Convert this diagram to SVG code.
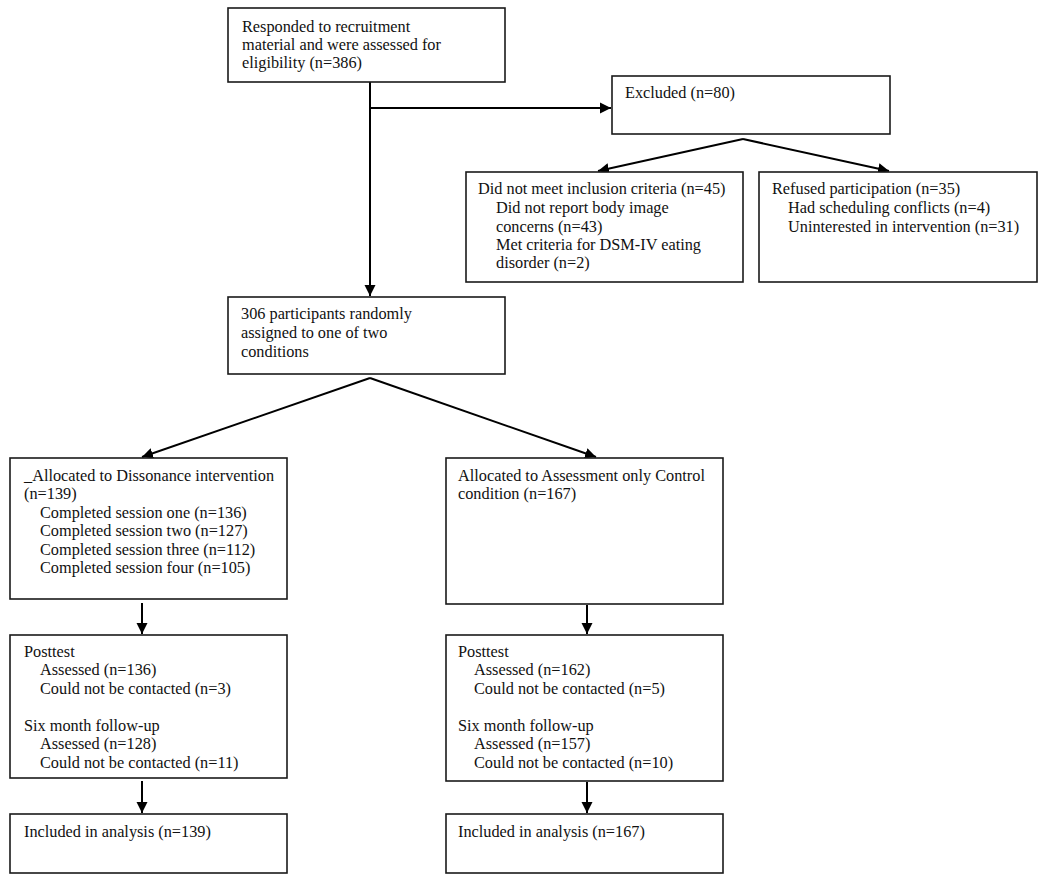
<svg xmlns="http://www.w3.org/2000/svg" width="1050" height="881" viewBox="0 0 1050 881">
<style>
.box{fill:#fff;stroke:#1a1a1a;stroke-width:1.6}
.t{font-family:"Liberation Serif","Times New Roman",serif;font-size:16.3px;fill:#111}
.c{fill:none;stroke:#000;stroke-width:2}
</style>
<defs>
<marker id="ah" markerUnits="userSpaceOnUse" markerWidth="12" markerHeight="12" refX="11" refY="6" orient="auto">
<path d="M0,0.5 L11,6 L0,11.5 z" fill="#000"/>
</marker>
</defs>
<rect width="1050" height="881" fill="#fff"/>
<g id="connectors">
<line class="c" x1="370" y1="82" x2="370" y2="296" marker-end="url(#ah)"/>
<line class="c" x1="370" y1="108" x2="611" y2="108" marker-end="url(#ah)"/>
<polyline class="c" points="743,139 598,171" marker-end="url(#ah)"/>
<polyline class="c" points="743,139 889,171" marker-end="url(#ah)"/>
<line class="c" x1="370" y1="378" x2="142" y2="457" marker-end="url(#ah)"/>
<line class="c" x1="370" y1="378" x2="596" y2="457" marker-end="url(#ah)"/>
<line class="c" x1="142" y1="603" x2="142" y2="634" marker-end="url(#ah)"/>
<line class="c" x1="587" y1="605" x2="587" y2="634" marker-end="url(#ah)"/>
<line class="c" x1="142" y1="781" x2="142" y2="813" marker-end="url(#ah)"/>
<line class="c" x1="587" y1="782" x2="587" y2="813" marker-end="url(#ah)"/>
</g>
<g id="n_responded">
<rect class="box" x="228" y="8" width="277" height="74"/>
<text class="t" x="242" y="32">Responded to recruitment</text>
<text class="t" x="242" y="50">material and were assessed for</text>
<text class="t" x="242" y="68">eligibility (n=386)</text>
</g>
<g id="n_excluded">
<rect class="box" x="612" y="76" width="278" height="58"/>
<text class="t" x="625" y="98">Excluded (n=80)</text>
</g>
<g id="n_notmeet">
<rect class="box" x="466" y="172" width="277" height="110"/>
<text class="t" x="478" y="194">Did not meet inclusion criteria (n=45)</text>
<text class="t" x="496" y="213">Did not report body image</text>
<text class="t" x="496" y="232">concerns (n=43)</text>
<text class="t" x="496" y="250">Met criteria for DSM-IV eating</text>
<text class="t" x="496" y="268">disorder (n=2)</text>
</g>
<g id="n_refused">
<rect class="box" x="759" y="172" width="278" height="110"/>
<text class="t" x="772" y="194">Refused participation (n=35)</text>
<text class="t" x="788" y="213">Had scheduling conflicts (n=4)</text>
<text class="t" x="788" y="232">Uninterested in intervention (n=31)</text>
</g>
<g id="n_random">
<rect class="box" x="228" y="297" width="277" height="77"/>
<text class="t" x="241" y="319">306 participants randomly</text>
<text class="t" x="241" y="338">assigned to one of two</text>
<text class="t" x="241" y="357">conditions</text>
</g>
<g id="n_dissonance">
<rect class="box" x="10" y="458" width="277" height="141"/>
<text class="t" x="24" y="481">_Allocated to Dissonance intervention</text>
<text class="t" x="24" y="499">(n=139)</text>
<text class="t" x="40" y="518">Completed session one (n=136)</text>
<text class="t" x="40" y="536">Completed session two (n=127)</text>
<text class="t" x="40" y="555">Completed session three (n=112)</text>
<text class="t" x="40" y="573">Completed session four (n=105)</text>
</g>
<g id="n_control">
<rect class="box" x="446" y="458" width="277" height="146"/>
<text class="t" x="458" y="481">Allocated to Assessment only Control</text>
<text class="t" x="458" y="499">condition (n=167)</text>
</g>
<g id="n_post_left">
<rect class="box" x="10" y="635" width="277" height="143"/>
<text class="t" x="24" y="657">Posttest</text>
<text class="t" x="40" y="675">Assessed (n=136)</text>
<text class="t" x="40" y="694">Could not be contacted (n=3)</text>
<text class="t" x="24" y="731">Six month follow-up</text>
<text class="t" x="40" y="749">Assessed (n=128)</text>
<text class="t" x="40" y="768">Could not be contacted (n=11)</text>
</g>
<g id="n_post_right">
<rect class="box" x="446" y="635" width="277" height="146"/>
<text class="t" x="458" y="657">Posttest</text>
<text class="t" x="474" y="675">Assessed (n=162)</text>
<text class="t" x="474" y="694">Could not be contacted (n=5)</text>
<text class="t" x="458" y="731">Six month follow-up</text>
<text class="t" x="474" y="749">Assessed (n=157)</text>
<text class="t" x="474" y="768">Could not be contacted (n=10)</text>
</g>
<g id="n_incl_left">
<rect class="box" x="10" y="814" width="277" height="59"/>
<text class="t" x="24" y="837">Included in analysis (n=139)</text>
</g>
<g id="n_incl_right">
<rect class="box" x="446" y="814" width="277" height="59"/>
<text class="t" x="458" y="837">Included in analysis (n=167)</text>
</g>
</svg>
